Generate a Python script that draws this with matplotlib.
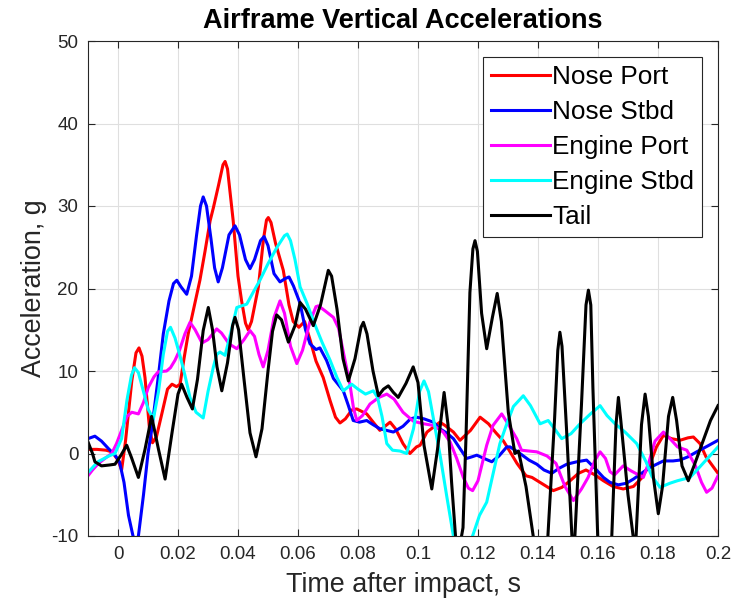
import numpy as np
import matplotlib.pyplot as plt

plt.rcParams['font.family'] = ['Liberation Sans', 'DejaVu Sans']
plt.rcParams['axes.unicode_minus'] = False

# values (time in s, acceleration in g)
t_nose_port = [-0.010, -0.007, -0.004, -0.002, 0.000, 0.0012, 0.0025, 0.0046, 0.006, 0.007,
               0.008, 0.009, 0.0105, 0.0115, 0.0128, 0.0146, 0.0165, 0.018, 0.0195, 0.0207,
               0.022, 0.0234, 0.0255, 0.0273, 0.029, 0.0307, 0.0318, 0.0335, 0.035, 0.0357,
               0.0365, 0.0384, 0.040, 0.0412, 0.0425, 0.0434, 0.0445, 0.0468, 0.0485, 0.0495,
               0.0501, 0.051, 0.0525, 0.0551, 0.057, 0.0584, 0.0603, 0.0622, 0.064, 0.066,
               0.0684, 0.0707, 0.0725, 0.074, 0.0758, 0.078, 0.0796, 0.0829, 0.0855, 0.0873,
               0.089, 0.0907, 0.0925, 0.095, 0.0973, 0.0995, 0.1007, 0.103, 0.1073, 0.109,
               0.1118, 0.114, 0.1175, 0.1207, 0.1235, 0.126, 0.1285, 0.1307, 0.133, 0.136,
               0.138, 0.142, 0.1451, 0.148, 0.1507, 0.1535, 0.156, 0.159, 0.1618, 0.165,
               0.1684, 0.1718, 0.1745, 0.1773, 0.1795, 0.1818, 0.1845, 0.1873, 0.190, 0.1918,
               0.194, 0.196, 0.200]
y_nose_port = [0.5, 0.5, 0.4, 0.2, -0.8, -2.0, 1.5, 8.8, 12.2, 12.8,
               11.8, 9.2, 3.0, 1.3, 2.0, 4.8, 7.8, 8.4, 8.1, 8.4,
               11.5, 14.5, 18.0, 21.0, 24.5, 28.2, 29.8, 32.5, 35.0, 35.4,
               34.5, 28.2, 21.5, 18.5, 15.8, 15.0, 16.0, 20.2, 26.0, 28.3,
               28.6, 28.0, 25.5, 22.2, 18.0, 16.0, 15.3, 16.0, 13.8, 11.2,
               9.2, 6.4, 4.4, 3.7, 4.2, 5.3, 5.4, 4.8, 3.6, 2.8,
               3.3, 3.8, 3.0, 1.2, 0.0, 0.8, 1.0, 2.6, 3.8, 3.4,
               2.6, 1.6, 2.8, 4.4, 3.6, 2.5, 1.5, 0.2, -1.2, -2.7,
               -2.9, -3.8, -4.5, -4.1, -3.3, -2.4, -2.0, -2.6, -3.3, -4.0,
               -4.3, -4.0, -3.0, -1.3, 0.8, 2.2, 1.8, 1.6, 1.9, 2.0,
               1.2, -0.4, -2.4]

t_nose_stbd = [-0.010, -0.0077, -0.0055, -0.0032, -0.001, 0.0005, 0.002, 0.0035, 0.005, 0.0059,
               0.0068, 0.0085, 0.010, 0.0112, 0.0135, 0.0151, 0.017, 0.0185, 0.0196, 0.021,
               0.0229, 0.0245, 0.0262, 0.0275, 0.0284, 0.0295, 0.031, 0.0322, 0.0334, 0.0348,
               0.037, 0.039, 0.0405, 0.0425, 0.044, 0.0455, 0.0475, 0.0487, 0.050, 0.052,
               0.054, 0.0557, 0.057, 0.0585, 0.0607, 0.0625, 0.064, 0.066, 0.0673, 0.0695,
               0.0718, 0.0751, 0.0768, 0.0784, 0.0805, 0.0829, 0.085, 0.0873, 0.0918, 0.095,
               0.0975, 0.0996, 0.102, 0.1051, 0.1073, 0.1095, 0.1118, 0.114, 0.1162, 0.118,
               0.1196, 0.122, 0.1246, 0.127, 0.1296, 0.1307, 0.134, 0.137, 0.1396, 0.142,
               0.1446, 0.147, 0.1496, 0.153, 0.1562, 0.159, 0.1618, 0.164, 0.1668, 0.1695,
               0.1718, 0.1745, 0.1773, 0.1818, 0.185, 0.1873, 0.190, 0.1929, 0.1965, 0.200]
y_nose_stbd = [1.8, 2.1, 1.5, 0.6, -0.2, -1.0, -3.5, -7.5, -10.0, -10.6,
               -10.0, -5.0, 0.0, 2.8, 9.5, 14.5, 18.5, 20.6, 21.0, 20.2,
               19.3, 21.5, 26.5, 30.0, 31.1, 30.0, 26.0, 22.5, 20.8, 22.5,
               26.5, 27.6, 26.5, 23.5, 22.4, 23.5, 25.8, 26.3, 25.2, 21.8,
               20.8, 21.2, 21.4, 20.3, 18.2, 15.0, 13.3, 12.6, 12.8, 11.3,
               9.1, 7.6, 5.8, 4.0, 3.8, 4.0, 3.5, 3.0, 2.6, 3.3,
               4.2, 4.4, 4.2, 3.8, 3.0, 2.5, 1.8, 0.6, -0.6, -0.4,
               -0.2, -0.6, -1.0, -0.3, 0.8, 0.8, 0.0, -0.8, -1.3, -2.0,
               -2.4, -1.8, -1.3, -1.0, -0.8, -1.8, -2.9, -3.5, -3.8, -3.6,
               -3.1, -2.4, -1.7, -0.9, -0.9, -0.8, -0.4, 0.2, 0.9, 1.6]

t_engine_port = [-0.010, -0.0085, -0.0065, -0.004, -0.0021, -0.0005, 0.0012, 0.003, 0.0046, 0.0068,
                 0.0085, 0.0101, 0.012, 0.0134, 0.0162, 0.0175, 0.019, 0.0205, 0.0223, 0.024,
                 0.0257, 0.028, 0.030, 0.0329, 0.0345, 0.037, 0.0396, 0.042, 0.044, 0.0455,
                 0.047, 0.0484, 0.050, 0.052, 0.054, 0.0555, 0.0575, 0.0596, 0.0615, 0.064,
                 0.066, 0.0668, 0.069, 0.0718, 0.0735, 0.075, 0.0773, 0.0785, 0.0796, 0.0815,
                 0.084, 0.087, 0.0896, 0.092, 0.095, 0.0985, 0.102, 0.1051, 0.1084, 0.1107,
                 0.1129, 0.1151, 0.1168, 0.1182, 0.120, 0.1229, 0.125, 0.1279, 0.130, 0.1329,
                 0.1345, 0.137, 0.1396, 0.143, 0.146, 0.149, 0.1518, 0.1545, 0.1567, 0.159,
                 0.1607, 0.1625, 0.164, 0.1655, 0.1684, 0.171, 0.1751, 0.177, 0.179, 0.1818,
                 0.184, 0.1865, 0.1896, 0.1925, 0.1945, 0.1962, 0.198, 0.200]
y_engine_port = [-2.7, -2.0, -1.2, -0.5, 0.0, 1.2, 2.8, 4.5, 5.0, 4.8,
                 6.2, 8.0, 9.3, 9.9, 10.0, 10.4, 11.3, 12.5, 14.5, 15.9,
                 15.0, 13.4, 13.8, 15.1, 14.6, 13.3, 12.7, 13.8, 14.9, 14.2,
                 12.0, 10.5, 12.5, 16.5, 18.5, 17.0, 13.0, 10.9, 12.5, 16.0,
                 17.8, 17.9, 17.3, 16.5, 15.2, 12.5, 8.4, 5.5, 4.0, 4.6,
                 6.0, 6.8, 7.2, 6.6, 5.0, 3.9, 3.6, 3.4, 2.6, 1.4,
                 -0.6, -2.9, -4.2, -4.5, -3.3, 1.0, 3.4, 4.8, 3.6, 1.8,
                 0.4, 0.3, 0.2, -0.3, -1.2, -4.0, -5.7, -4.3, -2.9, -0.8,
                 0.2, -0.6, -2.2, -2.6, -1.5, -2.1, -2.9, -1.0, 1.5, 2.6,
                 1.8, 0.8, 0.4, -1.5, -3.5, -4.7, -4.2, -2.7]

t_engine_stbd = [-0.010, -0.0067, -0.003, -0.001, 0.0012, 0.003, 0.0045, 0.0055, 0.0068, 0.0085,
                 0.010, 0.0118, 0.0135, 0.0151, 0.0165, 0.0175, 0.019, 0.0207, 0.0223, 0.024,
                 0.026, 0.0284, 0.030, 0.0318, 0.0329, 0.034, 0.0357, 0.0375, 0.0396, 0.0429,
                 0.045, 0.0473, 0.050, 0.053, 0.0555, 0.0564, 0.0575, 0.059, 0.0607, 0.063,
                 0.0651, 0.068, 0.0707, 0.073, 0.0751, 0.0765, 0.0779, 0.080, 0.0825, 0.0851,
                 0.0865, 0.088, 0.0896, 0.0915, 0.094, 0.0962, 0.0985, 0.1005, 0.102, 0.1035,
                 0.1055, 0.1075, 0.1095, 0.1118, 0.1148, 0.118, 0.1205, 0.1229, 0.125, 0.1273,
                 0.1295, 0.1318, 0.1351, 0.1375, 0.1407, 0.1434, 0.1455, 0.1479, 0.151, 0.154,
                 0.1575, 0.1607, 0.163, 0.1657, 0.169, 0.1729, 0.176, 0.178, 0.1807, 0.184,
                 0.1865, 0.1907, 0.1935, 0.196, 0.200]
y_engine_stbd = [-2.3, -1.0, -0.3, 0.0, 1.8, 6.5, 9.5, 10.4, 9.8, 7.5,
                 5.4, 4.2, 7.5, 12.0, 14.8, 15.3, 14.0, 11.8, 9.5, 6.8,
                 5.0, 4.3, 7.5, 10.5, 12.0, 12.3, 11.9, 14.5, 17.7, 18.1,
                 19.5, 21.0, 23.0, 25.0, 26.4, 26.6, 25.8, 23.5, 20.2, 18.2,
                 16.1, 13.5, 11.3, 9.2, 7.6, 8.0, 8.4, 7.8, 7.2, 7.6,
                 6.8, 4.5, 1.2, 0.4, 0.3, 0.0, 3.0, 7.5, 8.8, 7.5,
                 3.5, -0.5, -5.0, -10.0, -12.5, -10.2, -7.5, -5.9, -2.5, 1.2,
                 3.5, 5.7, 7.0, 5.8, 3.6, 4.0, 3.0, 1.8, 2.4, 3.6,
                 4.8, 5.8, 4.6, 3.6, 2.6, 1.2, -1.0, -2.8, -4.1, -3.6,
                 -3.3, -2.9, -1.8, -0.8, 0.8]

t_tail = [-0.010, -0.0085, -0.0077, -0.0055, -0.003, -0.001, 0.001, 0.0029, 0.0045, 0.0068,
          0.009, 0.0112, 0.0135, 0.0157, 0.018, 0.020, 0.0212, 0.023, 0.0248, 0.0265,
          0.0284, 0.0301, 0.0315, 0.033, 0.0346, 0.0365, 0.0382, 0.039, 0.0402, 0.042,
          0.044, 0.046, 0.048, 0.050, 0.0515, 0.0529, 0.0545, 0.0568, 0.059, 0.0607,
          0.0625, 0.0651, 0.0675, 0.0701, 0.0712, 0.073, 0.075, 0.0768, 0.079, 0.081,
          0.0818, 0.083, 0.085, 0.0868, 0.0885, 0.0901, 0.0918, 0.0934, 0.096, 0.0984,
          0.100, 0.102, 0.1046, 0.1065, 0.1087, 0.110, 0.1112, 0.1125, 0.1138, 0.115,
          0.116, 0.1173, 0.1183, 0.119, 0.1198, 0.1212, 0.1229, 0.1248, 0.1264, 0.1278,
          0.1301, 0.1323, 0.1335, 0.136, 0.1384, 0.1407, 0.1433, 0.1455, 0.1466, 0.1473,
          0.148, 0.1495, 0.1513, 0.1518, 0.1523, 0.1545, 0.156, 0.1568, 0.1576, 0.1583,
          0.1599, 0.1622, 0.1646, 0.166, 0.1668, 0.1676, 0.170, 0.1717, 0.1722, 0.1727,
          0.1745, 0.1757, 0.1768, 0.1785, 0.1801, 0.1815, 0.1835, 0.1849, 0.1862, 0.188,
          0.1901, 0.192, 0.195, 0.1975, 0.200]
y_tail = [1.4, 0.0, -1.0, -1.5, -1.4, -1.3, -0.2, 1.0, -0.5, -2.9,
          0.5, 4.5, 0.5, -3.1, 2.5, 7.2, 8.4, 6.8, 5.4, 9.0,
          14.9, 17.7, 15.0, 10.5, 7.6, 11.0, 15.5, 16.5, 15.0, 9.0,
          2.5, -0.4, 3.0, 10.0, 14.8, 16.8, 16.2, 13.5, 15.5, 18.3,
          17.5, 15.5, 18.0, 22.2, 21.5, 17.5, 11.5, 8.8, 11.5, 15.3,
          15.9, 14.5, 10.0, 7.0, 7.8, 8.2, 7.4, 6.8, 8.5, 10.5,
          8.6, 1.0, -4.3, 0.5, 7.4, 3.5, -3.5, -10.0, -11.5, -9.0,
          2.0, 19.5, 24.8, 25.8, 24.5, 17.0, 12.7, 16.5, 19.4, 16.0,
          5.0, 0.0, 0.3, -4.0, -10.0, -13.5, -10.0, 4.0, 12.5, 14.7,
          13.0, 3.0, -10.0, -10.5, -10.0, 6.0, 18.0, 19.8, 18.0, 8.0,
          -10.0, -13.0, -10.0, 3.5, 6.8, 4.0, -5.0, -10.0, -10.5, -10.0,
          3.5, 7.2, 4.5, -3.0, -7.3, -4.0, 4.5, 6.8, 4.0, -1.5,
          -3.3, -1.5, 1.5, 4.0, 5.8]

series = [
    ('Nose Port', t_nose_port, y_nose_port, '#ff0000'),
    ('Nose Stbd', t_nose_stbd, y_nose_stbd, '#0000ff'),
    ('Engine Port', t_engine_port, y_engine_port, '#ff00ff'),
    ('Engine Stbd', t_engine_stbd, y_engine_stbd, '#00ffff'),
    ('Tail', t_tail, y_tail, '#000000'),
]

x_ticks = [0, 0.02, 0.04, 0.06, 0.08, 0.1, 0.12, 0.14, 0.16, 0.18, 0.2]
x_tick_labels = ['0', '0.02', '0.04', '0.06', '0.08', '0.1', '0.12', '0.14', '0.16', '0.18', '0.2']
y_ticks = [-10, 0, 10, 20, 30, 40, 50]

fig = plt.figure(figsize=(7.37, 6.05), dpi=100)
ax = fig.add_axes([88/737, 69/605, 630/737, 495/605])

for name, t, y, c in series:
    ax.plot(t, y, color=c, lw=2.2, label=name, solid_joinstyle='round')

ax.set_xlim(-0.01, 0.2)
ax.set_ylim(-10, 50)
ax.set_xticks(x_ticks)
ax.set_xticklabels(x_tick_labels)
ax.set_yticks(y_ticks)

dark = '#262626'
ax.grid(True, color='#dfdfdf', lw=0.8)
ax.set_axisbelow(True)
for s in ax.spines.values():
    s.set_color(dark)
    s.set_linewidth(0.8)
ax.tick_params(direction='in', length=5, width=0.8, colors=dark, labelsize=13.5,
               top=True, right=True, pad=7)

ax.set_title('Airframe Vertical Accelerations', fontsize=19.5, fontweight='bold', pad=9)
ax.set_xlabel('Time after impact, s', fontsize=19.4, color=dark, labelpad=7)
ax.set_ylabel('Acceleration, g', fontsize=19.4, color=dark, labelpad=3)

leg = ax.legend(loc='upper right', bbox_to_anchor=(0.975, 0.967), borderaxespad=0,
                fontsize=18.8, handlelength=2.25, handletextpad=0.1, labelspacing=0.42,
                borderpad=0.3, fancybox=False, framealpha=1)
leg.get_frame().set_edgecolor(dark)
leg.get_frame().set_linewidth(0.8)

fig.savefig('out.png', dpi=100, facecolor='white')
